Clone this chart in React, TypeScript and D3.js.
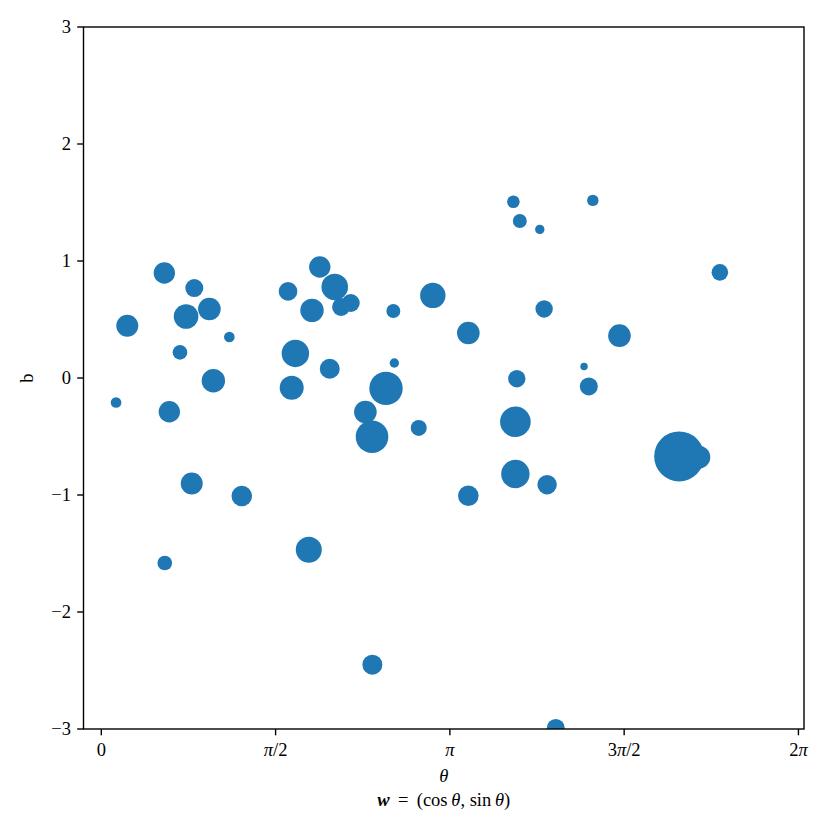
import React from "react";
import * as d3 from "d3";

// theta (radians), b (offset), s (marker area, pt^2)
const thetaVals = [3.714, 4.430, 3.772, 3.952, 1.969, 0.568, 5.575, 0.838, 2.104, 1.683, 0.234, 0.764, 0.974, 1.899, 2.161, 2.248, 2.632, 2.988, 3.991, 1.154, 3.308, 4.670, 0.709, 1.749, 2.641, 2.059, 4.351, 1.010, 1.716, 2.566, 3.745, 4.394, 0.133, 0.613, 2.380, 2.440, 2.861, 3.732, 5.208, 5.385, 3.732, 4.018, 0.815, 1.266, 3.308, 1.870, 0.572, 2.443, 4.096];
const bVals = [1.507, 1.518, 1.342, 1.270, 0.949, 0.897, 0.903, 0.769, 0.778, 0.740, 0.447, 0.526, 0.590, 0.578, 0.607, 0.641, 0.573, 0.706, 0.590, 0.350, 0.385, 0.362, 0.219, 0.210, 0.128, 0.079, 0.099, -0.023, -0.083, -0.089, -0.006, -0.072, -0.209, -0.288, -0.291, -0.502, -0.427, -0.374, -0.670, -0.677, -0.821, -0.912, -0.901, -1.009, -1.006, -1.468, -1.581, -2.450, -2.991];
const sizeVals = [49, 40, 60, 27, 141, 141, 85, 100, 218, 107, 149, 187, 158, 169, 100, 100, 60, 199, 93, 35, 158, 158, 66, 232, 27, 123, 17, 169, 178, 344, 93, 100, 35, 141, 158, 328, 79, 289, 771, 163, 249, 116, 149, 131, 131, 209, 66, 123, 100];

const xTickVals = [0, Math.PI / 2, Math.PI, (3 * Math.PI) / 2, 2 * Math.PI];
const xTickNum = ["0", "π/2", "π", "3π/2", "2π"];
const yTickVals = [-3, -2, -1, 0, 1, 2, 3];

const W = 830;
const H = 830;
const L = 83.5, R = 804, T = 27, B = 729;
const FONT = "'Liberation Serif', 'DejaVu Serif', serif";
const BLUE = "#1f77b4";

function XTickLabel({ label }: { label: string }) {
  const parts = label.split(/(π)/).filter((p) => p.length > 0);
  return (
    <>
      {parts.map((p, i) => (
        <tspan key={i} fontStyle={p === "π" ? "italic" : "normal"}>
          {p}
        </tspan>
      ))}
    </>
  );
}

export default function App() {
  const x = d3.scaleLinear().domain([-0.1605, 6.3333]).range([L, R]);
  const y = d3.scaleLinear().domain([-3, 3]).range([B, T]);
  const maxS = d3.max(sizeVals) as number;
  const r = d3.scaleSqrt().domain([0, maxS]).range([0, 0.9 * Math.sqrt(maxS)]);
  const pts = thetaVals.map((t, i) => ({ t, b: bVals[i], s: sizeVals[i] }));
  const tickLen = 6.3;

  return (
    <svg
      width={W}
      height={H}
      style={{ position: "absolute", left: 0, top: 0, background: "#fff" }}
      fontFamily={FONT}
    >
      <defs>
        <clipPath id="plotclip">
          <rect x={L} y={T} width={R - L} height={B - T} />
        </clipPath>
      </defs>
      <rect x={0} y={0} width={W} height={H} fill="#fff" />
      <g clipPath="url(#plotclip)">
        {pts.map((p, i) => (
          <circle key={i} cx={x(p.t)} cy={y(p.b)} r={r(p.s)} fill={BLUE} />
        ))}
      </g>
      <rect x={L} y={T} width={R - L} height={B - T} fill="none" stroke="#000" strokeWidth={1.4} />
      {xTickVals.map((v, i) => (
        <g key={i}>
          <line x1={x(v)} x2={x(v)} y1={B} y2={B + tickLen} stroke="#000" strokeWidth={1.4} />
          <text x={x(v)} y={756} textAnchor="middle" fontSize={18.5}>
            <XTickLabel label={xTickNum[i]} />
          </text>
        </g>
      ))}
      {yTickVals.map((v, i) => (
        <g key={i}>
          <line x1={L - tickLen} x2={L} y1={y(v)} y2={y(v)} stroke="#000" strokeWidth={1.4} />
          <text x={71} y={y(v)} dy="0.35em" textAnchor="end" fontSize={18.5}>
            {v < 0 ? "\u2212" + Math.abs(v) : String(v)}
          </text>
        </g>
      ))}
      <text x={(L + R) / 2} y={782} textAnchor="middle" fontSize={18.5} fontStyle="italic">
        θ
      </text>
      <text x={(L + R) / 2} y={806} textAnchor="middle" fontSize={18.5} style={{ whiteSpace: "pre" }}>
        <tspan fontWeight="bold" fontStyle="italic">w</tspan>
        <tspan>{"\u2009 = \u2009(cos\u2009"}</tspan>
        <tspan fontStyle="italic">θ</tspan>
        <tspan>{", sin\u2009"}</tspan>
        <tspan fontStyle="italic">θ</tspan>
        <tspan>)</tspan>
      </text>
      <text
        transform={`translate(33, ${(T + B) / 2}) rotate(-90)`}
        textAnchor="middle"
        fontSize={18.5}
      >
        b
      </text>
    </svg>
  );
}
